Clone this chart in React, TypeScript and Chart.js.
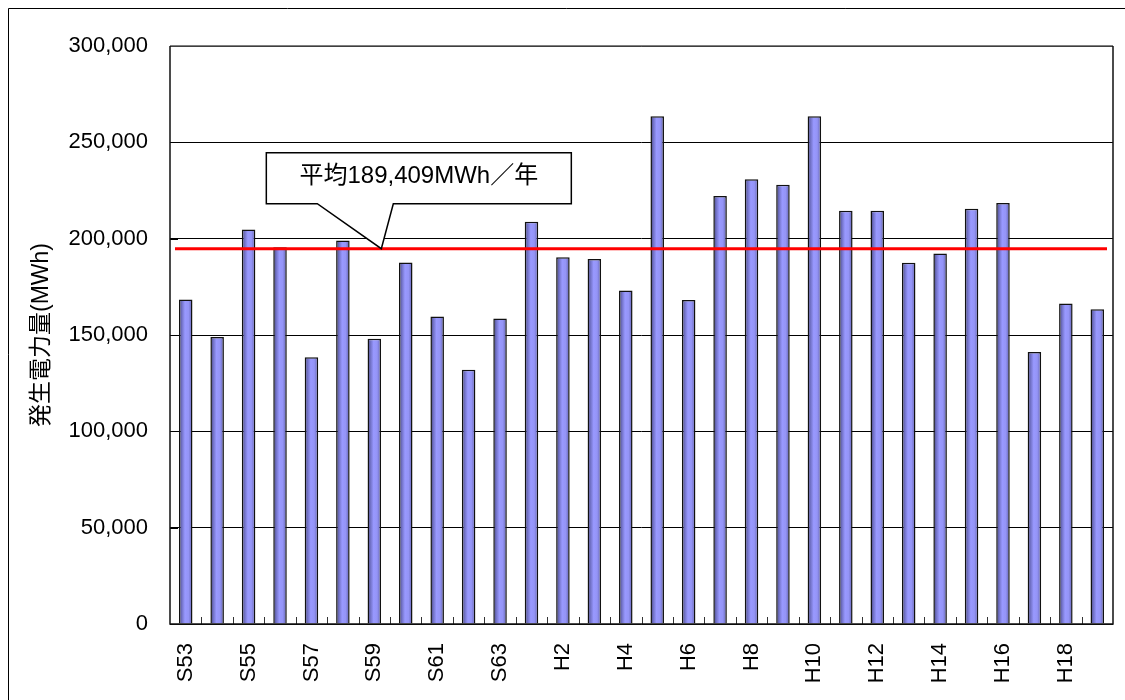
import React, { useEffect, useRef } from 'react';
import { Chart, registerables } from 'chart.js';

Chart.register(...registerables);

const categories = ['S53', 'S54', 'S55', 'S56', 'S57', 'S58', 'S59', 'S60', 'S61', 'S62', 'S63', 'H1', 'H2', 'H3', 'H4', 'H5', 'H6', 'H7', 'H8', 'H9', 'H10', 'H11', 'H12', 'H13', 'H14', 'H15', 'H16', 'H17', 'H18', 'H19'];
const generation = [168400, 149000, 204800, 195600, 138400, 199000, 148100, 187600, 159600, 132000, 158500, 208800, 190400, 189500, 173100, 263500, 168200, 222100, 230800, 228000, 263500, 214500, 214500, 187500, 192300, 215500, 218500, 141200, 166300, 163400];
const yMin = 0;
const yMax = 300000;
const yStep = 50000;
const averageLineValue = 194800;
const calloutText = '平均189,409MWh／年';
const yTitle = '発生電力量(MWh)';

const FONT = "'Liberation Sans', Arial, 'Noto Sans CJK JP', sans-serif";

const decorPlugin = {
  id: 'decor',
  beforeDraw(chart: any) {
    const { ctx, width, height } = chart;
    ctx.save();
    ctx.fillStyle = '#ffffff';
    ctx.fillRect(0, 0, width, height);
    ctx.strokeStyle = '#000000';
    ctx.lineWidth = 1;
    ctx.beginPath();
    ctx.moveTo(8.5, height);
    ctx.lineTo(8.5, 8.5);
    ctx.lineTo(width, 8.5);
    ctx.stroke();
    ctx.restore();
  },
  afterDatasetsDraw(chart: any) {
    const { ctx, chartArea } = chart;
    const xs = chart.scales.x;
    const ys = chart.scales.y;
    const { left, right, top, bottom } = chartArea;
    ctx.save();
    ctx.strokeStyle = '#333333';
    ctx.lineWidth = 1;
    const n = categories.length;
    const step = (right - left) / n;
    ctx.beginPath();
    for (let i = 1; i < n; i++) {
      const px = Math.round(left + step * i) + 0.5;
      ctx.moveTo(px, bottom);
      ctx.lineTo(px, bottom - 7);
    }
    ctx.stroke();
    ctx.strokeStyle = '#000000';
    ctx.beginPath();
    for (let v = yMin; v <= yMax; v += yStep) {
      const py = Math.round(ys.getPixelForValue(v)) + 0.5;
      ctx.moveTo(left, py);
      ctx.lineTo(left + 8, py);
    }
    ctx.stroke();
    ctx.lineWidth = 1.5;
    ctx.strokeStyle = '#555555';
    ctx.beginPath();
    ctx.moveTo(left, top);
    ctx.lineTo(right, top);
    ctx.stroke();
    ctx.strokeStyle = '#111111';
    ctx.beginPath();
    ctx.moveTo(right, top);
    ctx.lineTo(right, bottom);
    ctx.lineTo(left, bottom);
    ctx.lineTo(left, top);
    ctx.stroke();
    const ay = ys.getPixelForValue(averageLineValue);
    ctx.strokeStyle = '#ff0000';
    ctx.lineWidth = 3;
    ctx.beginPath();
    ctx.moveTo(left + 5, ay);
    ctx.lineTo(right - 6, ay);
    ctx.stroke();
    const tipX = xs.getPixelForValue(6) + 7;
    const tipY = ay;
    const bl = tipX - 115;
    const br = tipX + 190;
    const bt = tipY - 96;
    const bb = tipY - 45;
    ctx.beginPath();
    ctx.moveTo(bl, bt);
    ctx.lineTo(br, bt);
    ctx.lineTo(br, bb);
    ctx.lineTo(tipX + 12, bb);
    ctx.lineTo(tipX, tipY);
    ctx.lineTo(tipX - 64, bb);
    ctx.lineTo(bl, bb);
    ctx.closePath();
    ctx.fillStyle = '#ffffff';
    ctx.fill();
    ctx.strokeStyle = '#000000';
    ctx.lineWidth = 1.5;
    ctx.stroke();
    ctx.fillStyle = '#000000';
    ctx.font = `24px ${FONT}`;
    ctx.textAlign = 'center';
    ctx.textBaseline = 'middle';
    ctx.fillText(calloutText, (bl + br) / 2, (bt + bb) / 2 - 2);
    ctx.restore();
  },
};

function barGradient(context: any) {
  const chart = context.chart;
  const xs = chart.scales && chart.scales.x;
  if (!xs || !chart.chartArea || context.dataIndex === undefined) return '#9999ff';
  const cx = xs.getPixelForValue(context.dataIndex);
  const w = 14;
  const g = chart.ctx.createLinearGradient(cx - w / 2, 0, cx + w / 2, 0);
  g.addColorStop(0, '#3a3a70');
  g.addColorStop(0.22, '#7070c4');
  g.addColorStop(0.45, '#9999ff');
  g.addColorStop(0.7, '#9494f6');
  g.addColorStop(1, '#5c5ca8');
  return g;
}

export default function App() {
  const canvasRef = useRef<HTMLCanvasElement | null>(null);

  useEffect(() => {
    if (!canvasRef.current) return;
    const chart = new Chart(canvasRef.current, {
      type: 'bar',
      data: {
        labels: categories,
        datasets: [
          {
            label: yTitle,
            data: generation,
            backgroundColor: barGradient,
            borderColor: '#111111',
            borderWidth: 1.5,
            barPercentage: 0.43,
            categoryPercentage: 1.0,
          },
        ],
      },
      options: {
        responsive: false,
        animation: false,
        events: [],
        layout: { padding: { left: 0, right: 12, top: 46, bottom: 0 } },
        plugins: {
          legend: { display: false },
          tooltip: { enabled: false },
          title: { display: false },
        },
        scales: {
          x: {
            offset: true,
            grid: { display: false, drawTicks: false },
            border: { display: false },
            ticks: {
              autoSkip: false,
              maxRotation: 90,
              minRotation: 90,
              padding: 19,
              color: '#000000',
              font: { family: FONT, size: 22 },
              callback: (_v: any, i: number) => (i % 2 === 0 ? categories[i] : ''),
            },
            afterFit: (scale: any) => {
              scale.height = 76;
              scale.paddingLeft = 0;
              scale.paddingRight = 0;
            },
          },
          y: {
            min: yMin,
            max: yMax,
            grid: { color: '#000000', lineWidth: 1, drawTicks: false },
            border: { display: false },
            ticks: {
              stepSize: yStep,
              padding: 22,
              color: '#000000',
              font: { family: FONT, size: 22 },
              callback: (v: any) => Number(v).toLocaleString('en-US'),
            },
            title: {
              display: true,
              text: yTitle,
              color: '#000000',
              font: { family: FONT, size: 23 },
              padding: { top: 28, bottom: 0 },
            },
            afterFit: (scale: any) => {
              scale.width = 170;
              scale.paddingTop = 0;
              scale.paddingBottom = 0;
            },
          },
        },
      },
      plugins: [decorPlugin],
    });
    return () => chart.destroy();
  }, []);

  return (
    <div style={{ position: 'absolute', left: 0, top: 0, width: 1125, height: 700, overflow: 'hidden', background: '#fff' }}>
      <canvas ref={canvasRef} width={1125} height={700} style={{ display: 'block' }} />
    </div>
  );
}
